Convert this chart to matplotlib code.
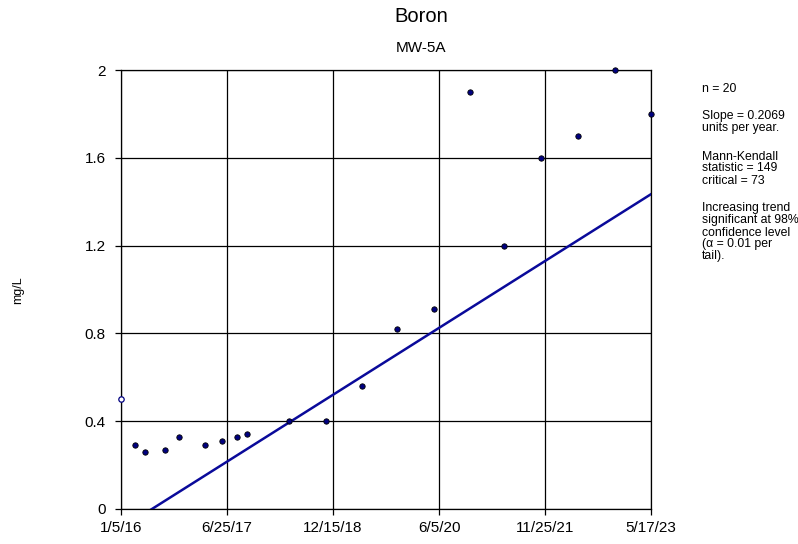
import matplotlib
matplotlib.use("Agg")
import matplotlib.pyplot as plt
import matplotlib.dates as mdates
import numpy as np

plt.rcParams['font.family'] = ['Liberation Sans', 'DejaVu Sans']

# Data
dates = ["2016-01-05", "2016-03-16", "2016-05-06", "2016-08-13", "2016-10-27",
         "2017-03-06", "2017-06-02", "2017-08-14", "2017-10-04", "2018-05-05",
         "2018-11-10", "2019-05-12", "2019-11-05", "2020-05-13", "2020-11-10",
         "2021-05-03", "2021-11-07", "2022-05-12", "2022-11-14", "2023-05-17"]
values = [0.50, 0.29, 0.26, 0.27, 0.33, 0.29, 0.31, 0.33, 0.34, 0.40,
          0.40, 0.56, 0.82, 0.91, 1.90, 1.20, 1.60, 1.70, 2.00, 1.80]
hollow = [True] + [False] * 19
slope_per_year = 0.2069
trend_zero_date = "2016-06-10"
tick_labels = ["1/5/16", "6/25/17", "12/15/18", "6/5/20", "11/25/21", "5/17/23"]
y_ticks = [0, 0.4, 0.8, 1.2, 1.6, 2]
y_tick_labels = ["0", "0.4", "0.8", "1.2", "1.6", "2"]
side_paragraphs = [
    ["n = 20"],
    ["Slope = 0.2069", "units per year."],
    ["Mann-Kendall", "statistic = 149", "critical = 73"],
    ["Increasing trend", "significant at 98%", "confidence level",
     "(\u03b1 = 0.01 per", "tail)."],
]

W, H = 798, 544
d = np.array(dates, dtype="datetime64[D]")
x = mdates.date2num(d)
v = np.array(values)
h = np.array(hollow)

fig = plt.figure(figsize=(W / 100, H / 100), dpi=100)
ax = fig.add_axes([121 / W, 1 - 509 / H, 530 / W, 439 / H])

xmin, xmax = x[0], x[-1]
ax.set_xlim(xmin, xmax)
ax.set_ylim(0, 2)

# trend line
x0 = mdates.date2num(np.datetime64(trend_zero_date))
tx = np.array([xmin, xmax])
ty = slope_per_year * (tx - x0) / 365.25
ax.plot(tx, ty, color="#0a0a9a", lw=1.8, zorder=3)

ax.scatter(x[~h], v[~h], s=15, facecolor="#000080", edgecolor="black",
           linewidths=0.6, zorder=4, clip_on=False)
ax.scatter(x[h], v[h], s=15, facecolor="white", edgecolor="#000080",
           linewidths=0.9, zorder=4, clip_on=False)

xt = np.linspace(xmin, xmax, 6)
ax.set_xticks(xt)
ax.set_xticklabels(tick_labels, fontsize=11)
ax.set_yticks(y_ticks)
ax.set_yticklabels(y_tick_labels, fontsize=11)
ax.grid(True, color="black", lw=0.9)
ax.set_axisbelow(True)
for s in ax.spines.values():
    s.set_color("black")
    s.set_linewidth(0.9)
ax.tick_params(direction="out", length=4, width=0.9, colors="black")
ax.tick_params(axis="y", pad=7)
ax.tick_params(axis="x", pad=5)

fig.text(421 / W, 1 - 22.5 / H, "Boron", ha="center", va="baseline", fontsize=14.5)
fig.text(421 / W, 1 - 52.3 / H, "MW-5A", ha="center", va="baseline", fontsize=11)
fig.text(18 / W, 1 - 290 / H, "mg/L", ha="center", va="center", fontsize=9,
         rotation=90)

yb = 91.5
for para in side_paragraphs:
    for i, line in enumerate(para):
        fig.text(702 / W, 1 - yb / H, line, ha="left", va="baseline", fontsize=8.8)
        if i < len(para) - 1:
            yb += 12
    yb += 28

fig.savefig("out.png", dpi=100)
